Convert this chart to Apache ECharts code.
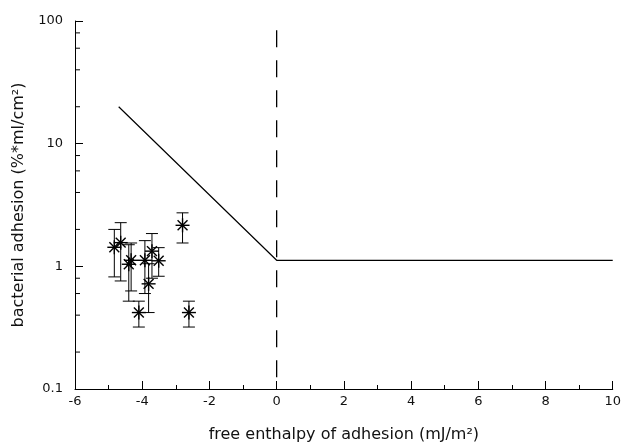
<!DOCTYPE html>
<html>
<head>
<meta charset="utf-8">
<script src="https://cdn.jsdelivr.net/npm/echarts@6/dist/echarts.min.js"></script>
<style>
  html, body { margin: 0; padding: 0; background: #fff; }
  #main { width: 624px; height: 448px; }
</style>
</head>
<body>
<div id="main"></div>
<script>
// measured points (free enthalpy, adhesion) with error bar ends
var ptX   = [-4.83, -4.64, -4.33, -4.40, -3.92, -3.71, -3.51, -3.81, -4.10, -2.61, -2.80];
var ptY   = [1.43, 1.56, 1.12, 1.04, 1.12, 1.33, 1.11, 0.72, 0.42, 0.42, 2.16];
var errLo = [0.82, 0.76, 0.63, 0.52, 0.60, 0.80, 0.83, 0.42, 0.32, 0.32, 1.55];
var errHi = [2.00, 2.27, 1.55, 1.50, 1.62, 1.85, 1.42, 1.05, 0.52, 0.52, 2.73];

// model line
var lineX = [-4.7, 0, 10];
var lineY = [20, 1.12, 1.12];

// dashed line at zero
var dashX = [0, 0];
var dashY = [84, 0.1];

// tick labels
var yTicks = [0.1, 1, 10, 100];
var yMinorTicks = [0.2, 0.4, 0.6, 0.8, 2, 4, 6, 8, 20, 40, 60, 80];

var font = 'DejaVu Sans';
var chart = echarts.init(document.getElementById('main'));

var points = ptX.map(function (x, i) { return [x, ptY[i], errLo[i], errHi[i]]; });

var option = {
    animation: false,
    backgroundColor: '#fff',
    grid: { left: 75, right: 11, top: 21, bottom: 56 },
    xAxis: {
        type: 'value',
        min: -6, max: 10, interval: 2,
        name: 'free enthalpy of adhesion (mJ/m²)',
        nameLocation: 'middle',
        nameGap: 38,
        nameTextStyle: { fontFamily: font, fontSize: 16, color: '#111' },
        axisLine: { onZero: false, lineStyle: { color: '#000', width: 1 } },
        axisTick: { inside: true, length: 8, lineStyle: { color: '#000' } },
        minorTick: { show: true, splitNumber: 2, length: 4, lineStyle: { color: '#000' } },
        axisLabel: { fontFamily: font, fontSize: 13, color: '#111', margin: 6 },
        splitLine: { show: false }
    },
    yAxis: {
        type: 'log',
        logBase: 10,
        min: 0.1, max: 100,
        name: 'bacterial adhesion (%*ml/cm²)',
        nameLocation: 'middle',
        nameGap: 46,
        nameTextStyle: { fontFamily: font, fontSize: 16, color: '#111' },
        axisLine: { onZero: false, lineStyle: { color: '#000', width: 1 } },
        axisTick: { inside: true, length: 8, lineStyle: { color: '#000' } },
        axisLabel: {
            fontFamily: font, fontSize: 13, color: '#111', margin: 12,
            formatter: function (v) {
                var best = yTicks.reduce(function (a, b) { return Math.abs(b - v) < Math.abs(a - v) ? b : a; });
                return String(best);
            }
        },
        splitLine: { show: false }
    },
    series: [
        {
            // y minor ticks (2,4,6,8 per decade)
            type: 'custom',
            silent: true,
            clip: false,
            data: yMinorTicks.map(function (v) { return [-6, v]; }),
            renderItem: function (params, api) {
                var p = api.coord([api.value(0), api.value(1)]);
                return {
                    type: 'line',
                    shape: { x1: p[0], y1: p[1], x2: p[0] + 5, y2: p[1] },
                    style: { stroke: '#000', lineWidth: 1 }
                };
            }
        },
        {
            type: 'line',
            data: lineX.map(function (x, i) { return [x, lineY[i]]; }),
            symbol: 'none',
            lineStyle: { color: '#000', width: 1.2 }
        },
        {
            type: 'line',
            data: dashX.map(function (x, i) { return [x, dashY[i]]; }),
            symbol: 'none',
            lineStyle: { color: '#000', width: 1.3, type: [17, 13] }
        },
        {
            type: 'custom',
            data: points,
            renderItem: function (params, api) {
                var c = api.coord([api.value(0), api.value(1)]);
                var lo = api.coord([api.value(0), api.value(2)]);
                var hi = api.coord([api.value(0), api.value(3)]);
                var cap = 6, r = 7;
                var st = { stroke: '#000', lineWidth: 1 };
                var kids = [
                    { type: 'line', shape: { x1: c[0], y1: lo[1], x2: c[0], y2: hi[1] }, style: st },
                    { type: 'line', shape: { x1: c[0] - cap, y1: lo[1], x2: c[0] + cap, y2: lo[1] }, style: st },
                    { type: 'line', shape: { x1: c[0] - cap, y1: hi[1], x2: c[0] + cap, y2: hi[1] }, style: st }
                ];
                // asterisk
                var sw = { stroke: '#000', lineWidth: 1.4 };
                [0, 45, 90, 135].forEach(function (deg) {
                    var a = deg * Math.PI / 180;
                    var dx = Math.cos(a) * r, dy = Math.sin(a) * r;
                    kids.push({ type: 'line', shape: { x1: c[0] - dx, y1: c[1] - dy, x2: c[0] + dx, y2: c[1] + dy }, style: sw });
                });
                return { type: 'group', children: kids };
            }
        }
    ]
};

chart.setOption(option);
</script>
</body>
</html>
